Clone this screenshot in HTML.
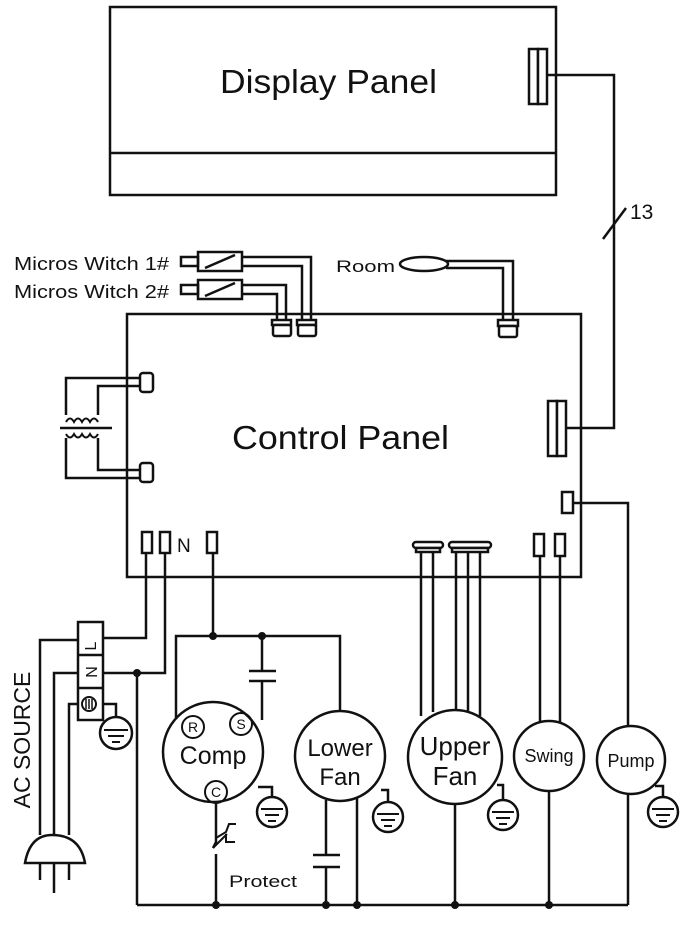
<!DOCTYPE html>
<html><head><style>
html,body{margin:0;padding:0;background:#fff;}
svg{display:block;}
text{font-family:"Liberation Sans",Arial,sans-serif;fill:#111;}
</style></head><body>
<svg width="689" height="932" viewBox="0 0 689 932" xmlns="http://www.w3.org/2000/svg">
<g fill="none" stroke="#111" stroke-width="2.5">
<rect x="110" y="7" width="446" height="188"/>
<line x1="110" y1="153" x2="556" y2="153"/>
<rect x="529" y="49" width="9" height="55" fill="#fff"/>
<rect x="538" y="49" width="9" height="55" fill="#fff"/>
<polyline points="547,75 614,75 614,428 566,428"/>
<line x1="603" y1="239" x2="626" y2="208"/>
<rect x="127" y="314" width="454" height="263"/>
<rect x="548" y="401" width="9" height="55" fill="#fff"/>
<rect x="557" y="401" width="9" height="55" fill="#fff"/>
<ellipse cx="424" cy="264" rx="24" ry="7"/>
<polyline points="446,261 513,261 513,320"/>
<polyline points="446,268 503,268 503,320"/>
<rect x="498" y="320" width="20" height="6" fill="#fff"/>
<rect x="499" y="326" width="18" height="11" rx="2" fill="#fff"/>
<rect x="198" y="252" width="44" height="19" fill="#fff"/>
<line x1="205" y1="268" x2="235" y2="255"/>
<rect x="181" y="257" width="17" height="9"/>
<rect x="198" y="280" width="44" height="19" fill="#fff"/>
<line x1="205" y1="296" x2="235" y2="283"/>
<rect x="181" y="285" width="17" height="9"/>
<polyline points="242,257 311,257 311,320"/>
<polyline points="242,266 302,266 302,320"/>
<polyline points="242,285 286,285 286,320"/>
<polyline points="242,294 277,294 277,320"/>
<rect x="272" y="320" width="19" height="5" fill="#fff"/>
<rect x="273" y="325" width="18" height="11" rx="2" fill="#fff"/>
<rect x="297" y="320" width="19" height="5" fill="#fff"/>
<rect x="298" y="325" width="18" height="11" rx="2" fill="#fff"/>
<polyline points="140,378 66,378 66,415"/>
<polyline points="140,386 98,386 98,415"/>
<polyline points="140,470 98,470 98,438"/>
<polyline points="140,478 66,478 66,438"/>
<rect x="140" y="373" width="13" height="19" rx="3" fill="#fff"/>
<rect x="140" y="463" width="13" height="19" rx="3" fill="#fff"/>
<line x1="60" y1="428" x2="112" y2="428"/>
<path d="M66,422 q4,-7 8,0 q4,-7 8,0 q4,-7 8,0 q4,-7 8,0" stroke-width="2"/>
<path d="M66,434 q4,7 8,0 q4,7 8,0 q4,7 8,0 q4,7 8,0" stroke-width="2"/>
<rect x="142" y="532" width="10" height="21"/>
<rect x="160" y="532" width="10" height="21"/>
<rect x="207" y="532" width="10" height="21"/>
<rect x="413" y="542" width="30" height="6" rx="3" fill="#fff"/>
<rect x="416" y="548" width="24" height="4" fill="#fff"/>
<rect x="449" y="542" width="42" height="6" rx="3" fill="#fff"/>
<rect x="452" y="548" width="36" height="4" fill="#fff"/>
<rect x="534" y="534" width="10" height="22"/>
<rect x="555" y="534" width="10" height="22"/>
<rect x="562" y="492" width="11" height="21"/>
<polyline points="146,553 146,638 103,638"/>
<polyline points="165,553 165,673 103,673"/>
<rect x="78" y="622" width="25" height="98"/>
<line x1="78" y1="655" x2="103" y2="655"/>
<line x1="78" y1="688" x2="103" y2="688"/>
<circle cx="89" cy="704" r="7" stroke-width="2"/>
<line x1="86" y1="699" x2="86" y2="709" stroke-width="1.5"/>
<line x1="89" y1="699" x2="89" y2="709" stroke-width="1.5"/>
<line x1="92" y1="699" x2="92" y2="709" stroke-width="1.5"/>
<polyline points="78,640 40,640 40,835"/>
<polyline points="78,673 54,673 54,835"/>
<polyline points="78,704 69,704 69,835"/>
<path d="M25,863 Q30,835 52,835 Q80,835 85,863 Z"/>
<line x1="40" y1="863" x2="40" y2="880"/>
<line x1="54" y1="863" x2="54" y2="893"/>
<line x1="69" y1="863" x2="69" y2="880"/>
<polyline points="103,704 116,704 116,717"/>
<line x1="137" y1="673" x2="137" y2="905"/>
<line x1="137" y1="905" x2="628" y2="905"/>
<line x1="213" y1="553" x2="213" y2="636"/>
<polyline points="176,719 176,636 340,636 340,711"/>
<line x1="262" y1="636" x2="262" y2="671"/>
<line x1="249" y1="671" x2="276" y2="671"/>
<line x1="249" y1="681" x2="276" y2="681"/>
<line x1="262" y1="681" x2="262" y2="720"/>
<circle cx="213" cy="752" r="50"/>
<circle cx="193" cy="727" r="11" stroke-width="2"/>
<circle cx="241" cy="724" r="11" stroke-width="2"/>
<circle cx="216" cy="792" r="11" stroke-width="2"/>
<polyline points="216,803 216,842 213,848"/>
<line x1="216" y1="854" x2="216" y2="905"/>
<path d="M213,848 l14,-14 M216,838 l10,-6 l3,-8 l7,0 M226,834 l0,8 l9,0" stroke-width="2"/>
<polyline points="258,787 272,787 272,797"/>
<circle cx="340" cy="756" r="45"/>
<line x1="326" y1="800" x2="326" y2="855"/>
<line x1="313" y1="855" x2="340" y2="855"/>
<line x1="313" y1="867" x2="340" y2="867"/>
<line x1="326" y1="867" x2="326" y2="905"/>
<line x1="357" y1="798" x2="357" y2="905"/>
<polyline points="381,790 388,790 388,802"/>
<line x1="421" y1="552" x2="421" y2="716"/>
<line x1="433" y1="552" x2="433" y2="712"/>
<line x1="456" y1="552" x2="456" y2="710"/>
<line x1="468" y1="552" x2="468" y2="712"/>
<line x1="480" y1="552" x2="480" y2="716"/>
<circle cx="455" cy="757" r="47"/>
<line x1="455" y1="804" x2="455" y2="905"/>
<polyline points="497,785 503,785 503,800"/>
<line x1="540" y1="556" x2="540" y2="722"/>
<line x1="560" y1="556" x2="560" y2="722"/>
<circle cx="549" cy="756" r="35"/>
<line x1="549" y1="791" x2="549" y2="905"/>
<polyline points="573,503 628,503 628,726"/>
<circle cx="631" cy="760" r="34"/>
<line x1="628" y1="794" x2="628" y2="905"/>
<polyline points="655,786 663,786 663,797"/>
</g>
<g fill="none" stroke="#111" stroke-width="2.5">
<circle cx="116" cy="733" r="16"/>
<circle cx="272" cy="812" r="15"/>
<circle cx="388" cy="817" r="15"/>
<circle cx="503" cy="815" r="15"/>
<circle cx="663" cy="812" r="15"/>
</g>
<g stroke="#111" stroke-width="2">
<path d="M104,730h24M108,736h16M112,742h8"/>
<path d="M261,809h22M265,815h14M268,821h8"/>
<path d="M377,814h22M381,820h14M384,826h8"/>
<path d="M492,812h22M496,818h14M499,824h8"/>
<path d="M652,809h22M656,815h14M659,821h8"/>
</g>
<g fill="#111">
<circle cx="213" cy="636" r="4"/><circle cx="262" cy="636" r="4"/>
<circle cx="137" cy="673" r="4"/>
<circle cx="216" cy="905" r="4"/><circle cx="326" cy="905" r="4"/>
<circle cx="357" cy="905" r="4"/><circle cx="455" cy="905" r="4"/>
<circle cx="549" cy="905" r="4"/>
</g>
<text x="220" y="93" font-size="33" textLength="217" lengthAdjust="spacingAndGlyphs">Display Panel</text>
<text x="232" y="449" font-size="33" textLength="217" lengthAdjust="spacingAndGlyphs">Control Panel</text>
<text x="630" y="219" font-size="21">13</text>
<text x="336" y="272" font-size="17" textLength="59" lengthAdjust="spacingAndGlyphs">Room</text>
<text x="14" y="270" font-size="18" textLength="155" lengthAdjust="spacingAndGlyphs">Micros Witch 1#</text>
<text x="14" y="298" font-size="18" textLength="155" lengthAdjust="spacingAndGlyphs">Micros Witch 2#</text>
<text x="177" y="552" font-size="19">N</text>
<text x="92" y="650" font-size="16" transform="rotate(-90 92 646)" text-anchor="middle">L</text>
<text x="92" y="677" font-size="16" transform="rotate(-90 92 672)" text-anchor="middle">N</text>
<text x="30" y="740" font-size="23" transform="rotate(-90 30 740)" text-anchor="middle">AC SOURCE</text>
<text x="193" y="732" font-size="14" text-anchor="middle">R</text>
<text x="241" y="729" font-size="14" text-anchor="middle">S</text>
<text x="216" y="797" font-size="14" text-anchor="middle">C</text>
<text x="213" y="764" font-size="25" text-anchor="middle">Comp</text>
<text x="340" y="756" font-size="24" text-anchor="middle">Lower</text>
<text x="340" y="785" font-size="24" text-anchor="middle">Fan</text>
<text x="455" y="755" font-size="26" text-anchor="middle">Upper</text>
<text x="455" y="785" font-size="26" text-anchor="middle">Fan</text>
<text x="549" y="762" font-size="18" text-anchor="middle">Swing</text>
<text x="631" y="767" font-size="18" text-anchor="middle">Pump</text>
<text x="229" y="887" font-size="17" textLength="68" lengthAdjust="spacingAndGlyphs">Protect</text>
</svg>
</body></html>
